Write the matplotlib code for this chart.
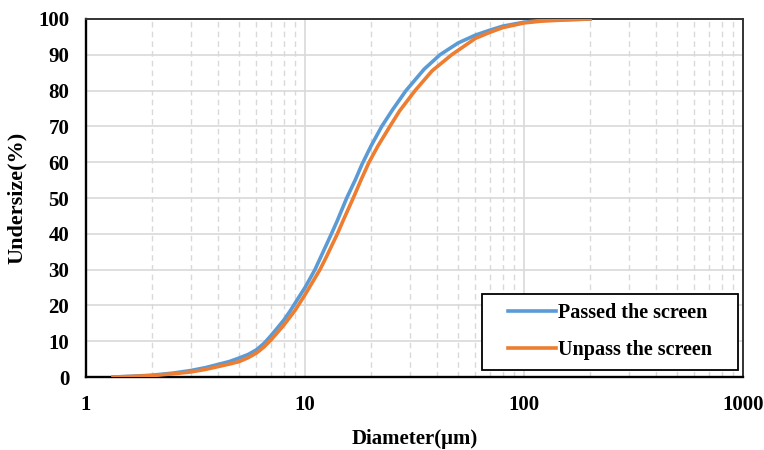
import matplotlib.pyplot as plt
from matplotlib.patches import Rectangle
from matplotlib.ticker import LogLocator, NullFormatter, FixedLocator, FixedFormatter

plt.rcParams['font.family'] = ['Liberation Serif', 'DejaVu Serif']
plt.rcParams['font.weight'] = 'bold'

# values
passed_d = [1.33, 1.6, 2, 2.5, 3, 3.5, 4, 4.5, 5, 5.5, 6, 6.5, 7, 7.5, 8, 8.5, 9, 10, 11.1, 12,
            13.2, 14, 15.5, 17, 18.2, 20, 22.4, 25, 28.9, 35, 41.3, 50, 60, 70, 80, 100, 120, 150, 200]
passed_v = [0, 0.2, 0.5, 1.1, 1.8, 2.6, 3.5, 4.3, 5.3, 6.3, 7.6, 9.4, 11.6, 13.8, 15.9, 18.2, 20.6, 25, 30, 34.5,
            40, 43.5, 50, 55.2, 59.4, 64.5, 70, 74.5, 80, 86, 90, 93.3, 95.5, 96.9, 98.0, 99.1, 99.6, 99.8, 100]

unpass_d = [1.33, 1.6, 2, 2.5, 3, 3.5, 4, 4.5, 5, 5.5, 6, 6.5, 7, 7.5, 8, 8.5, 9, 10, 11.7, 12.5,
            14.05, 15, 16.6, 18, 19.6, 21.5, 24.4, 27, 31.8, 38, 46.7, 55, 60, 70, 80, 100, 120, 150, 200]
unpass_v = [0, 0.15, 0.4, 0.9, 1.4, 2.1, 2.9, 3.6, 4.3, 5.4, 6.7, 8.4, 10.4, 12.5, 14.5, 16.6, 18.6, 23, 30, 33.5,
            40, 44, 50, 55, 60, 64.5, 70, 74.3, 80, 85.5, 90, 93.0, 94.6, 96.3, 97.6, 98.9, 99.4, 99.7, 100]

x_ticks = [1, 10, 100, 1000]
x_labels = ['1', '10', '100', '1000']
y_ticks = list(range(0, 101, 10))

fig = plt.figure(figsize=(7.64, 4.5), dpi=100)
ax = fig.add_axes([0.1126, 0.1622, 0.86, 0.7956])

ax.plot(passed_d, passed_v, color='#5B9BD5', linewidth=2.6, label='Passed the screen', zorder=3)
ax.plot(unpass_d, unpass_v, color='#ED7D31', linewidth=2.6, label='Unpass the screen', zorder=3)

ax.set_xscale('log')
ax.set_xlim(1, 1000)
ax.set_ylim(0, 100)

ax.xaxis.set_major_locator(FixedLocator(x_ticks))
ax.xaxis.set_major_formatter(FixedFormatter(x_labels))
ax.xaxis.set_minor_locator(LogLocator(base=10, subs=range(2, 10)))
ax.xaxis.set_minor_formatter(NullFormatter())
ax.set_yticks(y_ticks)

ax.grid(True, which='major', axis='both', color='#d9d9d9', linewidth=1.2, linestyle='-')
ax.grid(True, which='minor', axis='x', color='#d9d9d9', linewidth=1.0, linestyle=(0, (4, 3)))
ax.set_axisbelow(True)

ax.tick_params(axis='both', which='both', length=0)
ax.tick_params(axis='x', pad=13, labelsize=15)
ax.tick_params(axis='y', pad=12, labelsize=15)
for lab in ax.get_xticklabels() + ax.get_yticklabels():
    lab.set_fontweight('bold')

for side in ['left', 'bottom']:
    ax.spines[side].set_color('black')
    ax.spines[side].set_linewidth(1.7)
for side in ['top', 'right']:
    ax.spines[side].set_color('#333333')
    ax.spines[side].set_linewidth(1.4)

ax.set_xlabel('Diameter(μm)', fontsize=15, fontweight='bold', labelpad=10)
ax.set_ylabel('Undersize(%)', fontsize=16, fontweight='bold', labelpad=8)

# legend box drawn by hand so it can be wider than the text needs
box = Rectangle((0.603, 0.02), 0.389, 0.212, transform=ax.transAxes,
                facecolor='white', edgecolor='black', linewidth=1.3, zorder=4)
ax.add_patch(box)
leg = ax.legend(loc='center', bbox_to_anchor=(0.7975, 0.126), fontsize=14.5,
                frameon=False, handlelength=2.4, handletextpad=0.1,
                borderpad=0.3, labelspacing=0.85)
leg.set_zorder(5)
for t in leg.get_texts():
    t.set_fontweight('bold')

plt.savefig('out.png', dpi=100)
